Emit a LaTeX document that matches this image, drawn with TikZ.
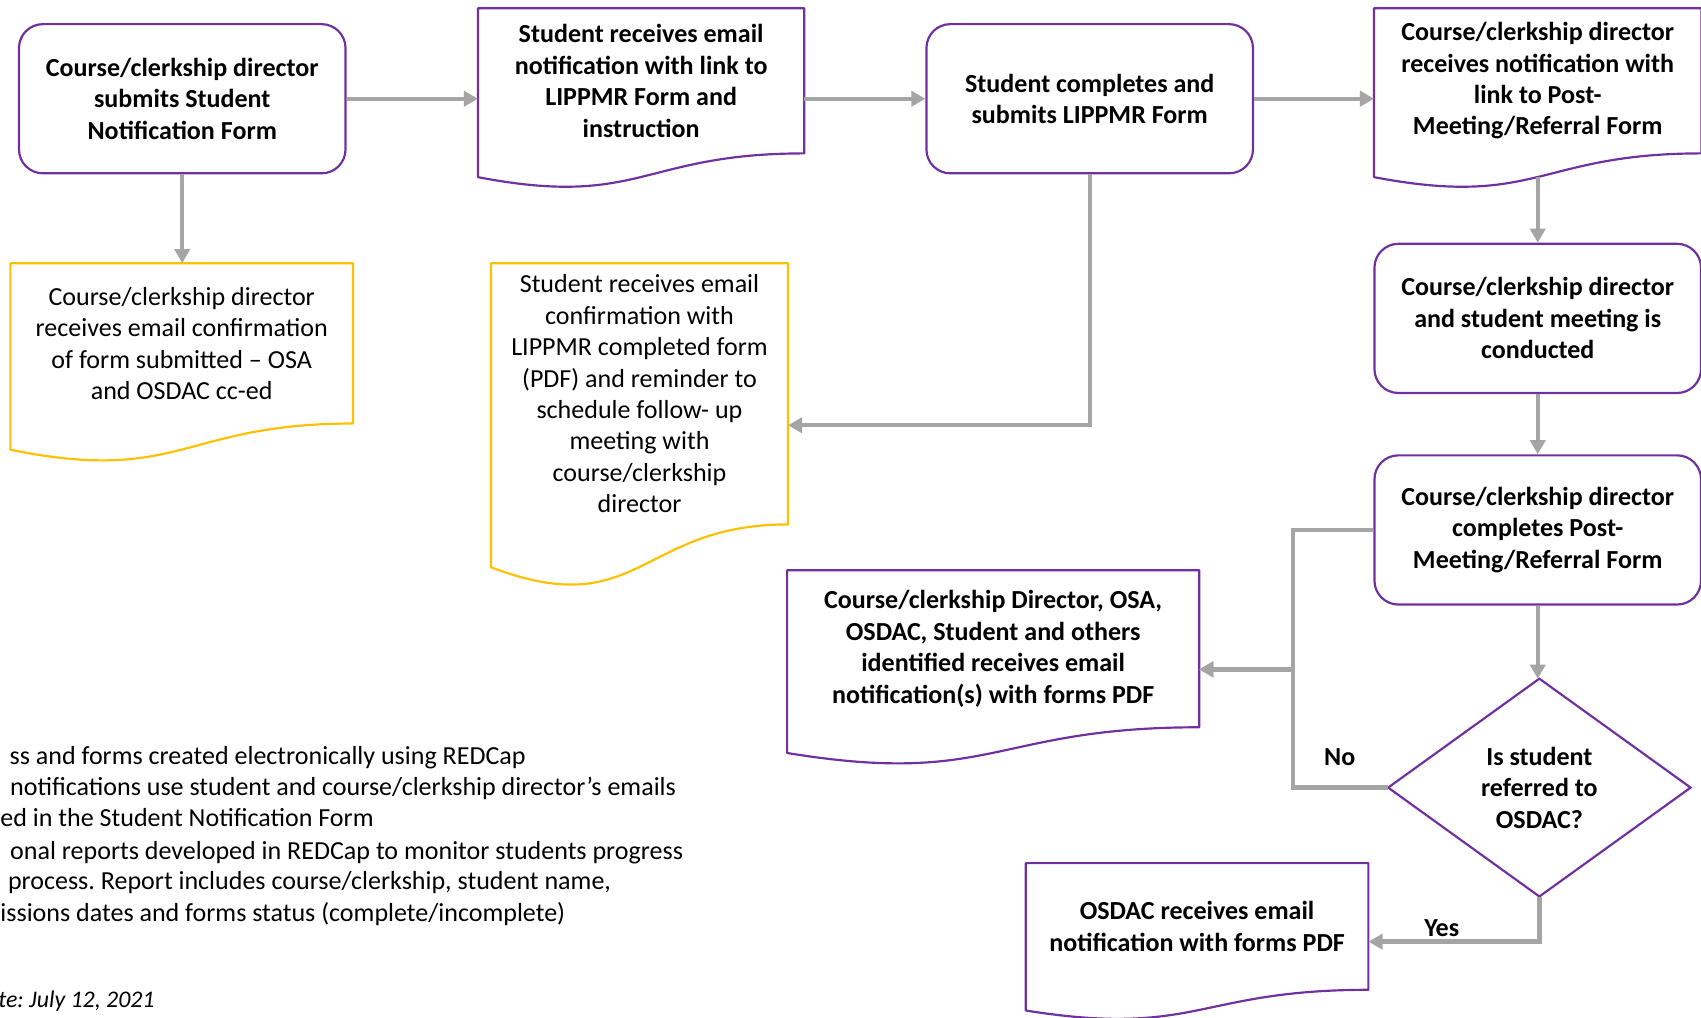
\documentclass[tikz,border=0pt]{standalone}
\usepackage{fontspec}
\setmainfont{Carlito}
\usetikzlibrary{arrows.meta,calc}
\definecolor{purp}{HTML}{7030A0}
\definecolor{ylw}{HTML}{FFC000}
\definecolor{gry}{HTML}{A5A5A5}
\frenchspacing
% #1 node name, #2 height of rectangular part in px units, #3 colour
\newcommand\docoutline[3]{%
  \draw[draw=#3, line width=1pt, line join=round]
    (#1.north west) -- (#1.north east) -- (#1.south east)
    .. controls (#1.south) and ($(#1.south)+(0,{0.381*#2})$) ..
    ($(#1.south west)+(0,{0.1646*#2})$) -- cycle;}
\begin{document}
\begin{tikzpicture}[x=0.5pt,y=-0.5pt,
  txt/.style={font=\fontsize{12}{14.5}\selectfont, inner sep=0pt},
  boldtxt/.style={font=\fontsize{12}{14.5}\selectfont\bfseries, inner sep=0pt},
  procbox/.style={boldtxt, draw=purp, line width=1pt, rounded corners=11pt,
    minimum width=150.5pt, minimum height=68.75pt, align=center},
  docbox/.style={inner sep=0pt, align=center},
  arr/.style={draw=gry, line width=2pt, -{Triangle[length=6.5pt,width=7pt]}},
  lbl/.style={boldtxt, anchor=center}
]
\useasboundingbox (0,0) rectangle (1568,938);

% process boxes
\node[procbox] (A) at (168,91) {Course/clerkship director\\submits Student\\Notification Form};
\node[procbox] (C) at (1004.5,91) {Student completes and\\submits LIPPMR Form};
\node[procbox] (E) at (1417.5,293.5) {Course/clerkship director\\and student meeting is\\conducted};
\node[procbox] (F) at (1417.5,488.5) {Course/clerkship director\\completes Post-\\Meeting/Referral Form};

% document boxes
\node[docbox, boldtxt, minimum width=150pt, minimum height=66.5pt] (B) at (591,74.5)
  {Student receives email\\notification with link to\\LIPPMR Form and\\instruction};
\docoutline{B}{133}{purp}
\node[docbox, boldtxt, minimum width=150.5pt, minimum height=66.5pt] (D) at (1417.5,74.5)
  {Course/clerkship director\\receives notification with\\link to Post-\\Meeting/Referral Form};
\docoutline{D}{133}{purp}
\node[docbox, boldtxt, minimum width=189.5pt, minimum height=72pt] (H) at (915.5,598)
  {Course/clerkship Director, OSA,\\OSDAC, Student and others\\identified receives email\\notification(s) with forms PDF};
\docoutline{H}{144}{purp}
\node[docbox, boldtxt, minimum width=157.5pt, minimum height=58pt] (I) at (1103.5,854)
  {OSDAC receives email\\notification with forms PDF};
\docoutline{I}{116}{purp}
\node[docbox, txt, minimum width=157.5pt, minimum height=73.5pt] (J) at (167.5,316.5)
  {Course/clerkship director\\receives email confirmation\\of form submitted – OSA\\and OSDAC cc-ed};
\docoutline{J}{147}{ylw}
\node[docbox, txt, minimum width=136.5pt, minimum height=120pt] (K) at (589.5,363)
  {Student receives email\\confirmation with\\LIPPMR completed form\\(PDF) and reminder to\\schedule follow- up\\meeting with\\course/clerkship\\director};
\docoutline{K}{240}{ylw}

% decision
\node[boldtxt, align=center, minimum width=139pt, minimum height=100pt] (G) at (1419,726)
  {Is student\\referred to\\OSDAC?};
\draw[purp, line width=1pt] (G.north) -- (G.east) -- (G.south) -- (G.west) -- cycle;

% connector helpers
\coordinate (jx) at (1192,0);
\coordinate (kin) at ([yshift=-14.5pt]K.east);
\coordinate (hin) at ([yshift=-9.5pt]H.east);
\coordinate (iin) at ([yshift=-7pt]I.east);
\coordinate (dout) at ($(D.south)+(0,{0.1634*133})$);

% connectors
\draw[arr] (A.east) -- (A.east -| B.west);
\draw[arr] (A.east -| B.east) -- (C.west);
\draw[arr] (C.east) -- (C.east -| D.west);
\draw[arr] (A.south) -- (A.south |- J.north);
\draw[arr] (C.south) |- (kin);
\draw[arr] (dout) -- (dout |- E.north);
\draw[arr] (E.south) -- (E.south |- F.north);
\draw[arr] (F.south) -- (F.south |- G.north);
\draw[arr] (F.west) -| (jx |- hin) -- (hin);
\draw[arr] (G.west) -| (jx |- hin) -- (hin);
\draw[arr] (G.south) |- (iin);

\node[lbl] (no) at (1235,698) {No};
\node[lbl] (yes) at (1329,856) {Yes};

% notes (cut by the left edge)
\node[txt, anchor=base west] (n1) at (8.5,705) {ss and forms created electronically using REDCap};
\node[txt, anchor=base west] (n2) at (9,733) {notifications use student and course/clerkship director’s emails};
\node[txt, anchor=base west] (n3) at (0,762) {ed in the Student Notification Form};
\node[txt, anchor=base west] (n4) at (9,792) {onal reports developed in REDCap to monitor students progress};
\node[txt, anchor=base west] (n5) at (7,820) {process. Report includes course/clerkship, student name,};
\node[txt, anchor=base west] (n6) at (0,849) {issions dates and forms status (complete/incomplete)};
\node[txt, anchor=base west, font=\fontsize{11}{13.5}\selectfont\itshape] (n7) at (-2,929) {te: July 12, 2021};
\end{tikzpicture}
\end{document}
